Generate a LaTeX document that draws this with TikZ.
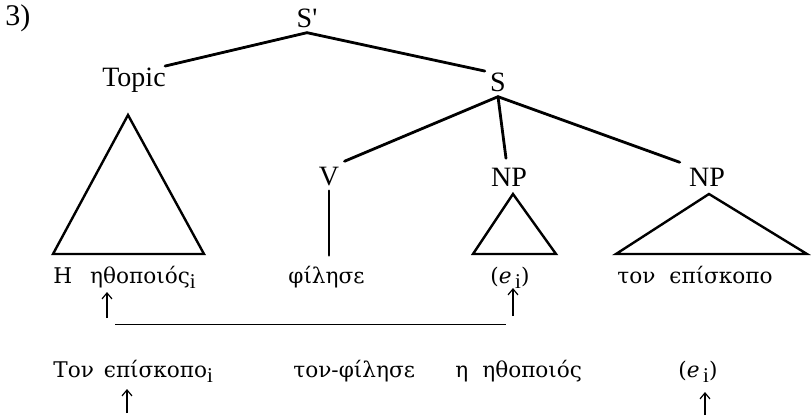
\documentclass[tikz,border=0pt]{standalone}
\usepackage{fontspec}
\setmainfont{Liberation Serif}
\newfontfamily\grk{DejaVu Serif}
\usetikzlibrary{arrows.meta}
\tikzset{
  lbl/.style ={inner sep=2.5pt, anchor=base, font=\fontsize{14}{16}\selectfont},
  wrd/.style ={inner sep=0pt, anchor=base west, font=\grk\fontsize{10.8}{12}\selectfont},
  br/.style  ={line width=1.4pt, line cap=round},
  tri/.style ={line width=1.2pt, line join=miter},
  ln/.style  ={line width=0.5pt},
  up/.style  ={-{Straight Barb[length=3pt,width=5pt]}, line width=0.6pt},
}
\newcommand{\subi}{\raisebox{-0.5ex}{\rmfamily\fontsize{10.5}{11}\selectfont i}}
\newcommand{\trace}{(\textit{e}\,\subi)}

\begin{document}
\begin{tikzpicture}[x=0.5pt,y=-0.5pt]
\useasboundingbox (0,0) rectangle (811,419);
\node[lbl, anchor=base west, inner sep=0pt, font=\fontsize{15}{17}\selectfont] (num) at (5,25) {3)};
\node[lbl] (sp)    at (307,27)  {S\textquotesingle};
\node[lbl] (topic) at (134,86)  {Topic};
\node[lbl] (s)     at (498,91)  {S};
\node[lbl] (v)     at (329,185) {V};
\node[lbl] (np1)   at (509,186) {NP};
\node[lbl] (np2)   at (707,186) {NP};

\node[wrd] (w1) at (53,283)  {Η\hspace{9pt}ηθοποιός\subi};
\node[wrd] (w2) at (288,283) {φίλησε};
\node[wrd] (w3) at (490,283) {\trace};
\node[wrd] (w4) at (617,283) {τον\hspace{7pt}ϵπίσκοπο};

\node[wrd] (w5) at (53,377)  {Τον\hspace{5pt}ϵπίσκοπο\subi};
\node[wrd] (w6) at (293,377) {τον-φίλησε};
\node[wrd] (w7) at (455,377) {η\hspace{7pt}ηθοποιός};
\node[wrd] (w8) at (678,377) {\trace};

\draw[br] (sp.south) -- ([xshift=-3pt,yshift=-2pt]topic.north east);
\draw[br] (sp.south) -- ([yshift=-2pt]s.north west);
\draw[br] (s.south) -- (v.north east);
\draw[br] (s.south) -- ([xshift=-1.5pt,yshift=2pt]np1.north);
\draw[br] (s.south) -- ([xshift=-2pt]np2.north west);
\draw[br] (v.south) -- ([yshift=5pt]v.south |- w2.north);

\draw[tri] (128,115) -- (53,254) -- (204,254) -- cycle;
\draw[tri] (513,194) -- (473,254) -- (556,254) -- cycle;
\draw[tri] (709,194) -- (616,254) -- (807,254) -- cycle;

\coordinate (a1) at (107,318);
\coordinate (a2) at (513,316);
\coordinate (a3) at (127,413);
\coordinate (a4) at (705,415);
\coordinate (l1) at (115,324);
\coordinate (l2) at (506,324);
\draw[up] (a1) -- ++(0,-26);
\draw[up] (a2) -- ++(0,-28);
\draw[up] (a3) -- ++(0,-24);
\draw[up] (a4) -- ++(0,-23);
\draw[ln] (l1) -- (l2);
\end{tikzpicture}
\end{document}
